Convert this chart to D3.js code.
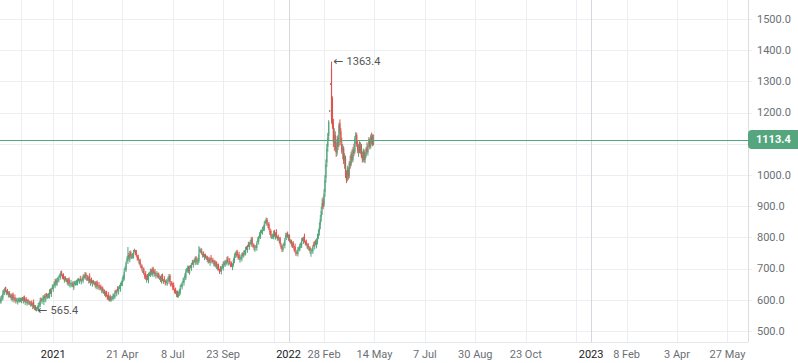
<!DOCTYPE html>
<html>
<head>
<meta charset="utf-8">
<script src="https://cdn.jsdelivr.net/npm/d3@7"></script>
<style>
  html, body { margin: 0; padding: 0; background: #fff; }
  svg { display: block; font-family: Roboto, "Noto Sans", sans-serif; }
</style>
</head>
<body>
<svg width="798" height="363"></svg>
<script>
//  Daily bars (weekdays without exchange holidays), then empty calendar days to the right
const firstDay = '2020-10-12';
const lastDay = '2022-05-13';
const holidays = ['2020-11-26', '2020-12-25', '2021-01-01', '2021-01-18', '2021-02-15', '2021-04-02',
    '2021-05-31', '2021-07-05', '2021-09-06', '2021-11-25', '2021-12-24', '2022-01-17', '2022-02-21', '2022-04-15'];

const open = [
    601, 592, 607, 604, 626, 624, 640, 625, 628, 615, 623, 610, 615, 600, 617, 600, 608, 600, 600, 593,
    601, 596, 602, 595, 603, 597, 611, 593, 602, 589, 598, 589, 593, 584, 592, 579, 592, 573, 576, 567,
    573, 570, 585, 582, 602, 596, 605, 593, 612, 600, 617, 608, 614, 610, 630, 618, 639, 635, 647, 645,
    663, 649, 665, 662, 674, 674, 688, 677, 678, 663, 671, 662, 665, 650, 666, 648, 655, 650, 652, 639,
    655, 650, 656, 652, 664, 660, 668, 659, 664, 661, 677, 670, 684, 666, 674, 661, 676, 655, 664, 650,
    659, 652, 655, 640, 656, 641, 648, 641, 642, 629, 638, 624, 629, 614, 623, 610, 616, 599, 610, 597,
    608, 602, 615, 608, 626, 620, 635, 627, 640, 634, 651, 649, 667, 668, 696, 698, 725, 725, 744, 728,
    753, 736, 741, 738, 756, 754, 752, 739, 738, 721, 727, 708, 709, 692, 698, 680, 683, 665, 676, 661,
    683, 678, 695, 680, 700, 682, 690, 678, 682, 678, 682, 668, 673, 658, 678, 660, 667, 658, 658, 653,
    659, 664, 678, 650, 654, 648, 647, 631, 632, 617, 625, 612, 621, 622, 644, 642, 659, 655, 670, 671,
    695, 692, 705, 686, 706, 702, 719, 713, 724, 719, 735, 718, 721, 724, 754, 758, 756, 745, 748, 735,
    743, 734, 737, 722, 732, 718, 735, 727, 728, 715, 723, 708, 719, 700, 710, 694, 699, 691, 704, 701,
    719, 710, 723, 716, 734, 718, 725, 715, 716, 703, 713, 722, 743, 742, 754, 740, 745, 729, 734, 731,
    747, 740, 753, 748, 766, 760, 777, 770, 782, 778, 797, 774, 775, 760, 770, 766, 789, 787, 802, 803,
    820, 814, 829, 826, 848, 846, 856, 843, 842, 821, 821, 800, 805, 800, 818, 802, 817, 799, 802, 789,
    797, 774, 771, 760, 776, 774, 799, 801, 812, 797, 805, 786, 789, 772, 782, 766, 771, 751, 752, 747,
    765, 760, 775, 772, 794, 788, 803, 785, 786, 771, 777, 762, 767, 750, 758, 756, 777, 771, 786, 773,
    786, 803, 818, 840, 866, 892, 918, 905, 945, 990, 1040, 1090, 1125, 1208, 1294, 1340, 1245, 1165, 1100, 1128,
    1090, 1070, 1120, 1095, 1165, 1140, 1100, 1080, 1085, 1048, 1055, 1002, 990, 1018, 998, 1040, 1035, 1065, 1050, 1080,
    1075, 1120, 1128, 1095, 1080, 1092, 1078, 1095, 1062, 1048, 1075, 1050, 1062, 1088, 1072, 1098, 1112, 1092, 1122, 1108,
    1100
];
const high = [
    606, 612, 616, 630, 634, 639, 642, 631, 635, 627, 628, 620, 619, 621, 623, 607, 617, 605, 607, 605,
    607, 607, 607, 607, 609, 610, 614, 605, 609, 602, 603, 598, 597, 596, 598, 591, 601, 583, 583, 577,
    581, 590, 594, 606, 608, 604, 614, 615, 619, 621, 622, 619, 622, 634, 636, 638, 649, 650, 659, 667,
    668, 670, 674, 678, 684, 692, 694, 682, 685, 675, 676, 670, 669, 670, 672, 654, 664, 655, 659, 659,
    661, 661, 664, 668, 670, 667, 677, 667, 675, 681, 682, 689, 688, 678, 680, 675, 685, 667, 671, 663,
    664, 660, 659, 660, 662, 647, 657, 646, 649, 642, 643, 634, 633, 627, 629, 616, 625, 613, 617, 612,
    613, 620, 620, 630, 632, 634, 644, 643, 648, 655, 660, 672, 680, 700, 708, 724, 739, 769, 751, 757,
    758, 746, 750, 760, 764, 760, 760, 744, 745, 731, 732, 716, 713, 702, 704, 686, 692, 679, 683, 687,
    689, 700, 699, 704, 706, 696, 699, 685, 692, 687, 687, 678, 677, 682, 684, 666, 676, 663, 667, 663,
    675, 683, 682, 660, 660, 654, 656, 636, 639, 629, 630, 626, 634, 648, 652, 658, 669, 673, 685, 699,
    703, 710, 709, 710, 712, 718, 728, 727, 733, 739, 740, 726, 736, 772, 768, 764, 765, 751, 755, 747,
    748, 742, 741, 736, 738, 734, 744, 732, 735, 727, 728, 724, 723, 714, 716, 700, 708, 707, 715, 723,
    724, 728, 728, 738, 740, 724, 734, 720, 723, 717, 733, 748, 754, 758, 760, 746, 754, 737, 745, 751,
    752, 758, 760, 770, 772, 776, 786, 785, 792, 801, 802, 782, 779, 774, 776, 788, 801, 805, 817, 824,
    825, 834, 838, 852, 856, 864, 862, 848, 849, 830, 826, 810, 812, 822, 824, 816, 826, 805, 809, 801,
    802, 782, 775, 780, 784, 798, 815, 815, 819, 809, 810, 794, 793, 786, 788, 772, 780, 756, 761, 769,
    771, 780, 784, 798, 800, 802, 812, 790, 793, 781, 782, 772, 771, 762, 766, 776, 786, 789, 793, 797,
    812, 826, 848, 872, 898, 925, 930, 955, 1000, 1050, 1100, 1135, 1176, 1208, 1294, 1363.4, 1252, 1180, 1150, 1140,
    1105, 1125, 1128, 1168, 1178, 1150, 1120, 1098, 1092, 1070, 1062, 1015, 1030, 1025, 1045, 1062, 1075, 1082, 1090, 1100,
    1125, 1138, 1135, 1110, 1100, 1108, 1105, 1100, 1075, 1085, 1082, 1072, 1090, 1105, 1100, 1122, 1118, 1130, 1136, 1130,
    1130
];
const low = [
    591, 587, 598, 598, 616, 615, 624, 615, 617, 607, 609, 605, 599, 594, 600, 591, 599, 588, 595, 585,
    594, 591, 593, 589, 597, 588, 592, 583, 591, 581, 588, 584, 583, 578, 579, 570, 572, 567, 565.4, 566,
    566, 567, 576, 576, 596, 587, 599, 583, 602, 592, 607, 603, 605, 604, 618, 609, 633, 625, 642, 637,
    648, 644, 656, 656, 670, 665, 676, 666, 665, 655, 661, 657, 649, 644, 648, 639, 649, 640, 641, 631,
    648, 645, 647, 646, 660, 651, 660, 649, 659, 653, 669, 665, 665, 660, 661, 652, 654, 645, 652, 642,
    651, 647, 639, 634, 641, 632, 640, 630, 631, 621, 623, 619, 613, 608, 610, 600, 598, 594, 595, 594,
    601, 597, 606, 602, 620, 611, 626, 617, 635, 626, 644, 644, 658, 662, 692, 689, 719, 715, 730, 720,
    735, 731, 732, 732, 752, 743, 738, 726, 723, 713, 707, 701, 691, 686, 680, 667, 664, 655, 663, 653,
    676, 673, 679, 674, 682, 673, 677, 668, 677, 669, 667, 663, 657, 652, 660, 651, 657, 646, 653, 645,
    652, 659, 649, 642, 648, 631, 630, 620, 619, 609, 607, 607, 612, 616, 640, 633, 653, 645, 665, 663,
    688, 687, 685, 680, 702, 693, 712, 703, 719, 711, 717, 713, 712, 718, 750, 749, 744, 735, 737, 727,
    733, 729, 721, 716, 718, 709, 726, 716, 717, 707, 707, 703, 699, 694, 694, 683, 690, 681, 699, 693,
    709, 705, 714, 710, 718, 709, 714, 704, 705, 695, 706, 717, 734, 736, 740, 729, 728, 719, 729, 723,
    739, 735, 744, 742, 760, 751, 769, 760, 777, 770, 773, 767, 759, 754, 766, 757, 783, 777, 797, 795,
    813, 809, 820, 820, 844, 837, 842, 830, 823, 808, 799, 795, 796, 794, 802, 793, 798, 789, 791, 781,
    773, 763, 753, 754, 772, 765, 793, 791, 799, 789, 785, 781, 771, 766, 766, 755, 750, 740, 747, 739,
    758, 755, 766, 766, 788, 779, 784, 774, 773, 763, 761, 757, 749, 738, 754, 747, 770, 761, 775, 765,
    778, 795, 806, 826, 850, 872, 890, 898, 930, 975, 1025, 1075, 1110, 1208, 1294, 1165, 1148, 1090, 1078, 1075,
    1058, 1062, 1080, 1090, 1130, 1095, 1068, 1050, 1035, 1020, 990, 974, 980, 985, 990, 1020, 1028, 1040, 1042, 1060,
    1068, 1098, 1090, 1070, 1058, 1070, 1068, 1055, 1040, 1042, 1040, 1038, 1055, 1068, 1062, 1090, 1082, 1085, 1098, 1092,
    1095
];
const close = [
    598, 604, 612, 620, 628, 633, 630, 626, 622, 618, 616, 612, 608, 611, 604, 601, 605, 598, 600, 596,
    602, 599, 603, 597, 601, 604, 598, 600, 596, 593, 595, 590, 592, 586, 583, 585, 578, 574, 570, 568,
    576, 582, 590, 596, 600, 598, 605, 610, 607, 612, 614, 611, 618, 624, 622, 632, 640, 645, 652, 658,
    655, 662, 670, 668, 678, 686, 682, 676, 670, 666, 668, 662, 658, 660, 652, 648, 655, 650, 646, 650,
    656, 653, 660, 658, 664, 661, 666, 662, 668, 672, 676, 681, 674, 668, 665, 669, 660, 662, 657, 654,
    658, 652, 648, 650, 645, 641, 646, 640, 636, 633, 630, 626, 622, 617, 614, 609, 604, 608, 600, 603,
    608, 612, 616, 620, 624, 628, 632, 638, 641, 646, 655, 664, 676, 690, 702, 718, 730, 742, 735, 748,
    742, 738, 746, 750, 758, 752, 744, 736, 728, 722, 714, 706, 700, 692, 684, 676, 670, 674, 668, 678,
    684, 692, 688, 694, 686, 690, 683, 680, 685, 677, 674, 670, 666, 672, 664, 660, 663, 656, 660, 654,
    670, 675, 658, 648, 652, 640, 636, 630, 624, 620, 614, 618, 630, 638, 646, 652, 660, 668, 678, 690,
    698, 702, 694, 700, 706, 712, 718, 722, 726, 730, 724, 718, 732, 748, 762, 758, 750, 746, 742, 738,
    740, 734, 730, 726, 722, 728, 732, 726, 722, 718, 714, 716, 708, 704, 698, 692, 696, 702, 708, 714,
    716, 720, 724, 728, 722, 718, 720, 714, 710, 708, 728, 740, 750, 748, 744, 738, 734, 732, 738, 742,
    746, 750, 756, 760, 764, 770, 775, 780, 785, 792, 780, 772, 768, 764, 770, 782, 792, 800, 810, 815,
    820, 826, 834, 842, 850, 858, 848, 840, 828, 816, 806, 802, 808, 812, 806, 810, 804, 800, 796, 792,
    780, 768, 762, 770, 778, 792, 806, 810, 804, 800, 792, 786, 780, 776, 770, 764, 756, 750, 754, 760,
    766, 772, 780, 788, 792, 796, 790, 784, 778, 772, 768, 764, 758, 752, 760, 770, 776, 784, 780, 788,
    800, 812, 832, 858, 885, 910, 898, 940, 985, 1035, 1085, 1120, 1170, 1208, 1294, 1185, 1160, 1105, 1130, 1085,
    1072, 1115, 1092, 1160, 1140, 1105, 1075, 1090, 1045, 1060, 1000, 985, 1020, 995, 1038, 1030, 1068, 1048, 1082, 1070,
    1118, 1130, 1098, 1078, 1095, 1075, 1098, 1060, 1050, 1078, 1048, 1065, 1084, 1074, 1095, 1115, 1090, 1125, 1105, 1098,
    1113.4
];

const yTicks = [500, 600, 700, 800, 900, 1000, 1100, 1200, 1300, 1400, 1500];
//  empty label = grid line only (its label is dropped next to a year label)
const tickDates = ['2020-11-12', '2021-01-04', '2021-02-02', '2021-04-21', '2021-07-08', '2021-09-23', '2021-12-09',
    '2022-01-03', '2022-02-28', '2022-05-14', '2022-07-07', '2022-08-30', '2022-10-23', '2022-12-16',
    '2023-01-01', '2023-02-08', '2023-04-03', '2023-05-27'];
const tickLabels = ['', '2021', '', '21 Apr', '8 Jul', '23 Sep', '',
    '2022', '28 Feb', '14 May', '7 Jul', '30 Aug', '23 Oct', '',
    '2023', '8 Feb', '3 Apr', '27 May'];
const strongTicks = ['2022-01-03', '2023-01-01'];

const lastPrice = 1113.4;
const highMark = 1363.4;
const lowMark = 565.4;

const GREEN = '#55a67e';
const RED = '#e2524d';
const GRID = '#eceef1';

//======================================================
//  Slots: one per trading day, then one per calendar day
//======================================================
const parse = d3.utcParse('%Y-%m-%d');
const fmt = d3.utcFormat('%Y-%m-%d');
const tradingDays = d3.utcDays(parse(firstDay), d3.utcDay.offset(parse(lastDay), 1))
    .filter(d => d.getUTCDay() !== 0 && d.getUTCDay() !== 6 && !holidays.includes(fmt(d)));
const lastBar = tradingDays[tradingDays.length - 1];

function slotOf(s) {
    const d = parse(s);
    if (d <= lastBar) return d3.bisectLeft(tradingDays, d);
    return tradingDays.length - 1 + d3.utcDay.count(lastBar, d);
}

const plotRight = 748, plotBottom = 342;
const x = d3.scaleLinear().domain([0, 801]).range([0, plotRight]);
const y = d3.scaleLinear().domain([500, 1500]).range([331, 19]);
const crisp = v => Math.round(v) + 0.5;

const svg = d3.select('svg');
const grid = svg.append('g').attr('id', 'grid');
const candles = svg.append('g').attr('id', 'candles');
const labels = svg.append('g').attr('id', 'labels');

//============ GRID =========================
grid.selectAll('line.h').data(yTicks).join('line')
    .attr('class', 'h')
    .attr('x1', 0).attr('x2', plotRight + 4)
    .attr('y1', d => crisp(y(d))).attr('y2', d => crisp(y(d)))
    .attr('stroke', GRID);

const ticks = tickDates.map((d, i) => ({
    slot: slotOf(d),
    label: tickLabels[i],
    year: /^\d{4}$/.test(tickLabels[i]),
    strong: strongTicks.includes(d)
}));

grid.selectAll('line.v').data(ticks).join('line')
    .attr('class', 'v')
    .attr('x1', d => crisp(x(d.slot))).attr('x2', d => crisp(x(d.slot)))
    .attr('y1', 0).attr('y2', plotBottom)
    .attr('stroke', d => d.strong ? '#d5d8dc' : GRID);

grid.append('line')
    .attr('x1', 0).attr('x2', plotRight)
    .attr('y1', plotBottom + 0.5).attr('y2', plotBottom + 0.5)
    .attr('stroke', '#e3e6ea');
grid.append('line')
    .attr('x1', plotRight + 0.5).attr('x2', plotRight + 0.5)
    .attr('y1', 0).attr('y2', plotBottom)
    .attr('stroke', '#dadde1');

//============ LAST PRICE LINE =========================
svg.append('line')
    .attr('x1', 0).attr('x2', plotRight)
    .attr('y1', crisp(y(lastPrice))).attr('y2', crisp(y(lastPrice)))
    .attr('stroke', GREEN).attr('stroke-width', 1);

//============ CANDLES =========================
const bars = close.map((c, i) => ({ i, o: open[i], h: high[i], l: low[i], c }));
const colour = d => d.c >= d.o ? GREEN : RED;

candles.selectAll('rect.wick').data(bars).join('rect')
    .attr('class', 'wick')
    .attr('x', d => x(d.i) - 0.5)
    .attr('width', 1)
    .attr('y', d => y(d.h))
    .attr('height', d => Math.max(1.6, y(d.l) - y(d.h)))
    .attr('fill', colour);

candles.selectAll('rect.body').data(bars).join('rect')
    .attr('class', 'body')
    .attr('x', d => x(d.i) - 0.6)
    .attr('width', 1.2)
    .attr('y', d => y(Math.max(d.o, d.c)))
    .attr('height', d => Math.max(1.6, Math.abs(y(d.o) - y(d.c))))
    .attr('fill', colour);

//============ HIGH / LOW MARKS =========================
[[high, highMark], [low, lowMark]].forEach(([src, price]) => {
    const t = labels.append('text')
        .attr('x', x(src.indexOf(price)) + 2)
        .attr('y', y(price))
        .attr('dy', '0.35em')
        .attr('font-size', 11)
        .attr('fill', '#555');
    t.append('tspan').attr('font-family', 'DejaVu Sans').attr('font-size', 12).text('←');
    t.append('tspan').attr('dx', 3).text(d3.format('.1f')(price));
});

//============ PRICE AXIS =========================
const tagY = y(lastPrice);
labels.selectAll('text.ytick').data(yTicks.filter(d => Math.abs(y(d) - tagY) > 11)).join('text')
    .attr('class', 'ytick')
    .attr('x', 757)
    .attr('y', d => y(d))
    .attr('dy', '0.35em')
    .attr('font-size', 11)
    .attr('fill', '#6b6f75')
    .text(d => d3.format('.1f')(d));

labels.append('path')
    .attr('d', `M${plotRight + 4},${tagY - 9.5} H800 V${tagY + 9.5} H${plotRight + 4} a4,4 0 0 1 -4,-4 V${tagY - 5.5} a4,4 0 0 1 4,-4 Z`)
    .attr('fill', GREEN);
labels.append('text')
    .attr('x', 756)
    .attr('y', tagY)
    .attr('dy', '0.35em')
    .attr('font-size', 11)
    .attr('font-weight', 'bold')
    .attr('fill', '#fff')
    .text(d3.format('.1f')(lastPrice));

//============ TIME AXIS =========================
labels.selectAll('text.xtick').data(ticks.filter(d => d.label)).join('text')
    .attr('class', 'xtick')
    .attr('x', d => x(d.slot))
    .attr('y', 354)
    .attr('dy', '0.35em')
    .attr('text-anchor', 'middle')
    .attr('font-size', 11)
    .attr('fill', d => d.year ? '#222' : '#6b6f75')
    .text(d => d.label);
</script>
</body>
</html>
